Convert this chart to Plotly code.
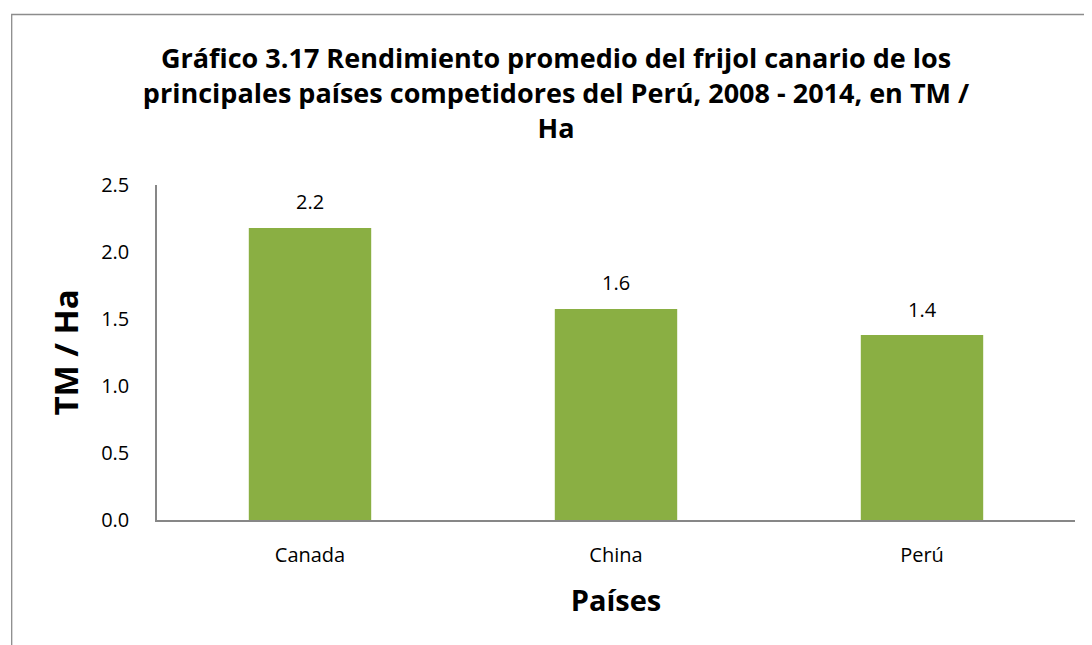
import plotly.graph_objects as go

countries = ["Canada", "China", "Perú"]
yields = [2.18, 1.575, 1.38]
labels = ["2.2", "1.6", "1.4"]
y_ticks = [0.0, 0.5, 1.0, 1.5, 2.0, 2.5]

FONT = "Open Sans"
W, H = 1084, 637          # page adds an 8px body margin
ML, MR, MT, MB = 149, 17, 177, 125
PW, PH = W - ML - MR, H - MT - MB

fig = go.Figure()
fig.add_trace(go.Bar(
    x=countries, y=yields, width=0.40,
    marker=dict(color="#8AAF43", line=dict(width=0)),
    hoverinfo="skip",
))

for c, v, t in zip(countries, yields, labels):
    fig.add_annotation(x=c, y=v, text=t, showarrow=False, yshift=26,
                       font=dict(family=FONT, size=20, color="#000"))

fig.update_layout(
    width=W, height=H,
    paper_bgcolor="white", plot_bgcolor="white",
    margin=dict(l=ML, r=MR, t=MT, b=MB),
    showlegend=False,
    title=dict(
        text="Gráfico 3.17 Rendimiento promedio del frijol canario de los<br>"
             "principales países competidores del Perú, 2008 - 2014, en TM /<br>Ha",
        x=548 / W, xref="container", xanchor="center",
        y=1 - 60 / H, yref="container", yanchor="top",
        font=dict(family=FONT, size=27, color="#000", weight="bold"),
    ),
    xaxis=dict(
        showline=True, linecolor="#878787", linewidth=1.5,
        showgrid=False, ticks="", ticklabelstandoff=16,
        tickfont=dict(family=FONT, size=20, color="#000"),
        title=dict(text="Países", standoff=24,
                   font=dict(family=FONT, size=29, color="#000", weight="bold")),
    ),
    yaxis=dict(
        range=[0, 2.5], tickvals=y_ticks,
        ticktext=[f"{t:.1f}" for t in y_ticks],
        showline=True, linecolor="#878787", linewidth=1.5,
        showgrid=False, zeroline=False, ticks="", ticklabelstandoff=22,
        tickfont=dict(family=FONT, size=20, color="#000"),
        title=dict(text="TM / Ha", standoff=13,
                   font=dict(family=FONT, size=33, color="#000", weight="bold")),
    ),
    shapes=[dict(type="rect", xref="paper", yref="paper",
                 x0=(3.7 - ML) / PW, x1=1.2, y0=-1.0, y1=(H - MB - 6.5) / PH,
                 line=dict(color="#8c8c8c", width=1.3), fillcolor="rgba(0,0,0,0)",
                 layer="below")],
)

fig.write_html("out.html")
